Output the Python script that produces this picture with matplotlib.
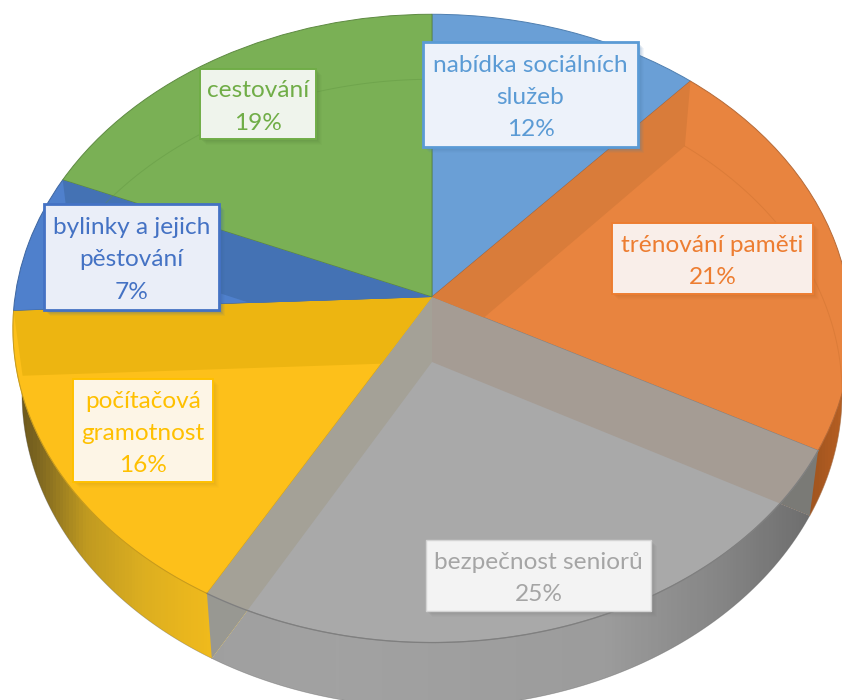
import numpy as np
import matplotlib
matplotlib.use("Agg")
import matplotlib.pyplot as plt
from matplotlib.colors import LinearSegmentedColormap
from matplotlib.patches import Polygon, Rectangle
from matplotlib.path import Path
from matplotlib.transforms import Transform

# ---- data -------------------------------------------------------------
categories = ["nabídka sociálních\nslužeb", "trénování paměti", "bezpečnost seniorů",
              "počítačová\ngramotnost", "bylinky a jejich\npěstování", "cestování"]
values = [11.6, 21.2, 25.4, 16.1, 7.1, 18.6]

# ---- styles -----------------------------------------------------------
face_colors = ["#6A9FD6", "#E8843F", "#A9A9A9", "#FDC01A", "#4F80CC", "#7AB055"]
edge_colors = ["#4F7FB0", "#B56A38", "#8E8E8E", "#D9A81E", "#3E66A0", "#5E8A42"]
text_colors = ["#5B9BD5", "#ED7D31", "#A5A5A5", "#FFC000", "#4472C4", "#70AD47"]
box_fills = ["#EDF2FA", "#F9EEE9", "#F3F3F3", "#FDF5E6", "#EAEEF8", "#EFF4EC"]
box_edges = ["#5B9BD5", "#ED7D31", "#D4D4D4", "#FFC000", "#4472C4", "#70AD47"]
shadow_colors = ["#4F7FB0", "#C9702F", "#808080", "#D9A81E", "#3E66A0", "#5E8A42"]
box_lw = [2.0, 1.4, 1.0, 1.4, 2.0, 1.4]
# left, top, right, bottom of every label box in picture pixels
label_boxes = [(423, 42, 638, 147), (612, 223, 813, 294), (426, 540, 651, 611),
               (73, 379, 213, 482), (44, 204, 219, 310), (200, 69, 316, 139)]

UPPER = (432, 297, 417, 311)
LOWER = (432, 362, 408, 311)
PERSP = 0.1
FONT = "Lato"
FONT_SIZE = 17.6
TEXT_SHIFT = 3


def project(xy, disc):
    xy = np.asarray(xy, float)
    cx, cy, a, b = disc
    w = 1 + PERSP * xy[..., 1]
    return np.stack([cx + a * xy[..., 0] / w, cy - b * xy[..., 1] / w], axis=-1)


class Perspective(Transform):
    input_dims = output_dims = 2
    is_separable = False
    has_inverse = False

    def __init__(self, disc):
        super().__init__()
        self.disc = disc

    def transform_non_affine(self, values):
        return project(values, self.disc)


def unit(deg):
    r = np.radians(deg)
    return np.stack([np.cos(r), np.sin(r)], axis=-1)


def arc(t1, t2, disc, n=120):
    return project(unit(np.linspace(t1, t2, n)), disc)


def wedge_path(t1, t2, disc):
    pts = np.vstack([arc(t1, t2, disc), project([0.0, 0.0], disc)])
    return Path(np.vstack([pts, pts[:1]]), closed=True)


def edge_quad(t, disc_a=UPPER, disc_b=LOWER):
    return np.array([project([0.0, 0.0], disc_a), project(unit(t), disc_a),
                     project(unit(t), disc_b), project([0.0, 0.0], disc_b)])


fig = plt.figure(figsize=(8.42, 7.0), dpi=100)
ax = fig.add_axes([0, 0, 1, 1])

wedges, _ = ax.pie(values, startangle=90, counterclock=False, colors=face_colors)
angles = [(w.theta1, w.theta2) for w in wedges]
for w, ec in zip(wedges, edge_colors):
    w.set_transform(Perspective(UPPER) + ax.transData)
    w.set_edgecolor(ec)
    w.set_linewidth(0.7)
    w.set_zorder(3)

# outer wall, seen below the upper disc, shaded across the width
wall_stops = {
    1: [(0.0, "#7C3F14"), (0.93, "#8C4A1C"), (1.0, "#B45E22")],
    2: [(0.0, "#9C9C9C"), (0.4, "#A2A2A2"), (0.72, "#9C9C9C"), (0.86, "#858585"), (1.0, "#666666")],
    3: [(0.0, "#5C4A18"), (0.04, "#7A6420"), (0.1, "#C09A20"), (0.17, "#DDAF20"), (0.26, "#F3BC1C"), (1.0, "#F3BC1C")],
}
grad = np.linspace(0, 1, 842)[None, :]
for i, stops in wall_stops.items():
    t1, t2 = angles[i]
    cmap = LinearSegmentedColormap.from_list(f"wall{i}", stops)
    im = ax.imshow(grad, cmap=cmap, extent=(0, 842, 700, 0), aspect="auto", zorder=1, vmin=0, vmax=1)
    im.set_clip_path(wedge_path(t1, t2, LOWER), ax.transData)
    ax.plot(*arc(t1, t2, LOWER).T, color="#555555", lw=0.5, alpha=0.4, zorder=1.2)

# end faces of the grey slice where they reach below the upper disc
t_right, t_left = angles[2][1], angles[2][0]
for t, col in [(t_right, "#7A7A76"), (t_left, "#989892")]:
    ax.add_patch(Polygon(edge_quad(t), closed=True, fc=col, ec="none", zorder=1.5))

# radial walls seen through each slice's top face
strips = [(angles[0][0], 1, "#D97C3A"), (angles[1][0], 2, "#A59C94"), (angles[2][0], 2, "#A4A197"),
          (angles[3][0], 3, "#EDB511"), (angles[4][0], 4, "#4472B4")]
for t, i, col in strips:
    p = Polygon(edge_quad(t), closed=True, fc=col, ec="none", zorder=4)
    ax.add_patch(p)
    p.set_clip_path(wedge_path(*angles[i], UPPER), ax.transData)

# thin edges of the lower disc shining through
for i, col in [(1, "#C9702F"), (5, "#5F9440")]:
    ax.plot(*arc(*angles[i], LOWER).T, color=col, lw=0.7, alpha=0.4, zorder=4.2)

# rim of the upper disc at the front
ax.plot(*arc(*angles[2], UPPER).T, color="#7F7F7F", lw=0.9, zorder=5)
ax.plot(*arc(*angles[3], UPPER).T, color="#B8901C", lw=0.6, alpha=0.6, zorder=5)

# labels
for cat, val, box, tc, fc, ec, sc, lw in zip(categories, values, label_boxes, text_colors,
                                             box_fills, box_edges, shadow_colors, box_lw):
    l, t, r, b = box
    for off, alpha in [(7, 0.06), (6, 0.08), (5, 0.10), (4, 0.12), (3, 0.16), (2, 0.20)]:
        ax.add_patch(Rectangle((l + off - 1, t + off - 1), r - l, b - t, fc=sc, ec="none",
                               alpha=alpha, zorder=8))
    ax.add_patch(Rectangle((l, t), r - l, b - t, fc=fc, ec=ec, lw=lw, zorder=9))
    ax.text((l + r) / 2, (t + b) / 2 + TEXT_SHIFT, f"{cat}\n{val:.0f}%", color=tc, ha="center", va="center",
            family=FONT, fontsize=FONT_SIZE, linespacing=1.65, zorder=10)

ax.set_aspect("auto")
ax.set_xlim(0, 842)
ax.set_ylim(700, 0)
ax.axis("off")
fig.savefig("out.png", dpi=100, facecolor="white")
